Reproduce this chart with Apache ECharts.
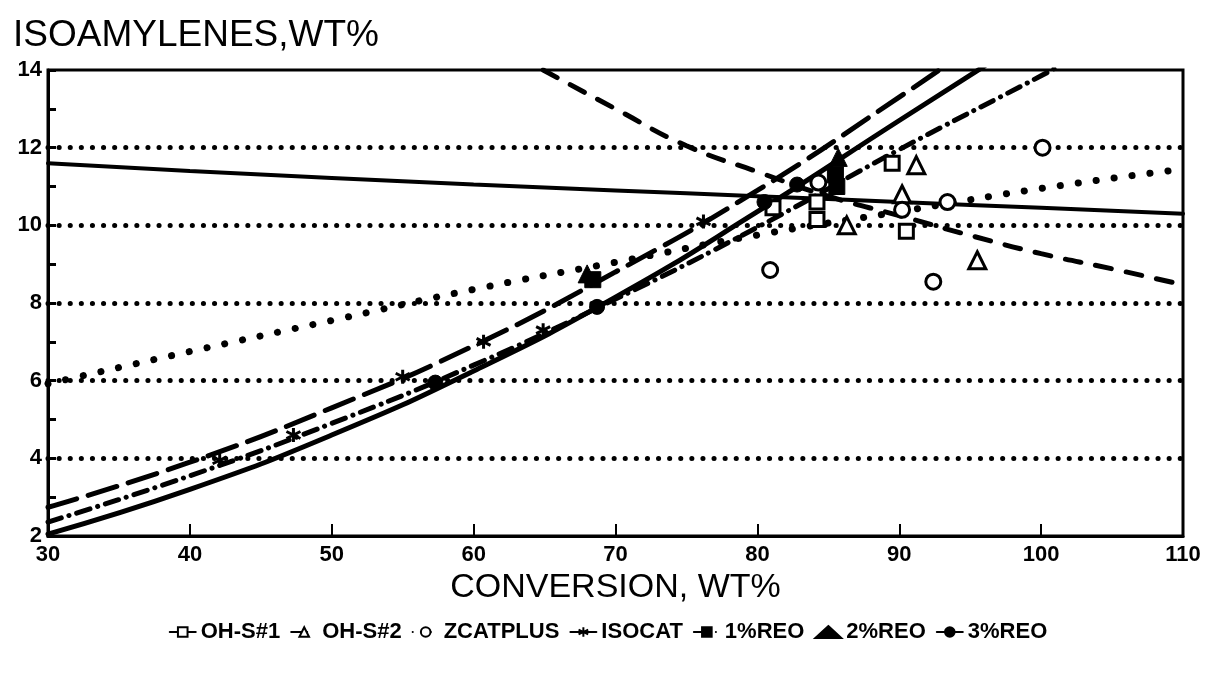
<!DOCTYPE html>
<html><head><meta charset="utf-8">
<script src="https://cdn.jsdelivr.net/npm/echarts@6/dist/echarts.min.js"></script>
<style>html,body{margin:0;padding:0;background:#fff}#c{width:1216px;height:686px}</style>
</head><body><div id="c"></div>
<script>
// ---- data ----
const seriesNames = ['OH-S#1','OH-S#2','ZCATPLUS','ISOCAT','1%REO','2%REO','3%REO'];
const xTicks = [30,40,50,60,70,80,90,100,110];

// fitted curves
const ohs1CurveX = [30,40,50,60,70,80,90,100,110];
const ohs1CurveY = [11.6,11.4,11.22,11.05,10.9,10.75,10.6,10.45,10.3];
const ohs2CurveX = [64.9,70,75,80,85,90,95,100,105,110];
const ohs2CurveY = [14.0,13.0,12.05,11.38,10.75,10.25,9.74,9.27,8.88,8.47];
const zcatCurveX = [30,40,50,60,70,80,90,100,110];
const zcatCurveY = [5.92,6.75,7.55,8.35,9.05,9.75,10.35,10.95,11.45];
const isocatCurveX = [30,40,50,60,70,80,90,94];
const isocatCurveY = [2.74,3.9,5.3,6.9,8.8,10.9,13.3,14.3];
const reo1CurveX = [30,40,50,60,70,80,90,100,101];
const reo1CurveY = [2.36,3.55,4.9,6.4,8.1,9.95,11.95,13.85,14.05];
const reo3CurveX = [30,40,50,60,70,80,90,96];
const reo3CurveY = [2.05,3.2,4.6,6.25,8.15,10.35,12.7,14.1];

// measured points
const ohs1PtsX = [81.1,84.2,84.2,89.5,90.5];
const ohs1PtsY = [10.45,10.6,10.15,11.6,9.85];
const ohs2PtsX = [86.3,90.2,91.2,95.5];
const ohs2PtsY = [10.0,10.8,11.55,9.1];
const zcatPtsX = [80.9,84.3,90.2,92.4,93.4,100.1];
const zcatPtsY = [8.85,11.1,10.4,8.55,10.6,12.0];
const isocatPtsX = [42.1,47.3,55,60.7,64.9,76.2];
const isocatPtsY = [3.95,4.6,6.1,7.0,7.3,10.1];
const reo1PtsX = [68.4,85.5,85.6];
const reo1PtsY = [8.6,11.3,11.0];
const reo2PtsX = [68.0,85.7];
const reo2PtsY = [8.75,11.75];
const reo3PtsX = [57.3,68.7,80.5,82.8];
const reo3PtsY = [5.95,7.9,10.6,11.05];

const zip = (xs, ys) => xs.map((x, i) => [x, ys[i]]);
const FONT = '"Liberation Sans", Arial, sans-serif';
const STAR = 'path://M10,0 L10,20 M1.34,5 L18.66,15 M1.34,15 L18.66,5';
const openStyle = {color:'#fff', borderColor:'#000', borderWidth:3, opacity:1};
const fillStyle = {color:'#000', borderColor:'#000', borderWidth:1, opacity:1};
const starStyle = {color:'transparent', borderColor:'#000', borderWidth:3, opacity:1};

function lineSeries(name, xs, ys, type, width, symbol, itemStyle) {
  return {
    name, type:'line', data: zip(xs, ys), smooth: true, showSymbol: false,
    symbol, symbolSize: 12, itemStyle, z: 2,
    lineStyle: {color:'#000', width, type, cap:'round', opacity:1},
    emphasis: {disabled: true}, silent: true
  };
}
function pointSeries(name, xs, ys, symbol, size, itemStyle) {
  return {
    name, type:'scatter', data: zip(xs, ys), symbol, symbolSize: size,
    itemStyle, z: 5, emphasis: {disabled: true}, silent: true
  };
}

const chart = echarts.init(document.getElementById('c'), null, {renderer:'canvas'});
chart.setOption({
  animation: false,
  backgroundColor: '#fff',
  title: {
    text: 'ISOAMYLENES,WT%', left: 8, top: 12,
    textStyle: {fontFamily: FONT, fontSize: 37, fontWeight: 'normal', color: '#000'}
  },
  legend: {
    data: seriesNames, bottom: 38, left: 'center', itemGap: 10,
    itemWidth: 26, itemHeight: 12,
    textStyle: {fontFamily: FONT, fontSize: 22, fontWeight: 'bold', color: '#000'}
  },
  grid: {left: 48, right: 33, top: 70, bottom: 150, show: true, borderColor: '#000', borderWidth: 3},
  xAxis: {
    type: 'value', min: 30, max: 110, interval: 10,
    name: 'CONVERSION, WT%', nameLocation: 'middle', nameGap: 34,
    nameTextStyle: {fontFamily: FONT, fontSize: 34, color: '#000'},
    axisLine: {show: true, lineStyle: {color:'#000', width: 3}},
    axisTick: {show: true, inside: true, length: 12, lineStyle: {color:'#000', width: 2}},
    axisLabel: {fontFamily: FONT, fontSize: 22, fontWeight: 'bold', color:'#000', margin: 8,
      formatter: v => xTicks.includes(v) ? String(v) : ''},
    splitLine: {show: false}
  },
  yAxis: {
    type: 'value', min: 2, max: 14, interval: 2,
    axisLine: {show: true, lineStyle: {color:'#000', width: 3}},
    axisTick: {show: true, inside: true, length: 8, lineStyle: {color:'#000', width: 3}},
    minorTick: {show: true, splitNumber: 2, length: 8, lineStyle: {color:'#000', width: 3}},
    axisLabel: {fontFamily: FONT, fontSize: 22, fontWeight: 'bold', color:'#000', margin: 6},
    splitLine: {show: true, showMinLine: false, showMaxLine: false,
      lineStyle: {color:'#000', width: 5, type: [0.1, 11], cap: 'round'}}
  },
  series: [
    lineSeries('OH-S#1', ohs1CurveX, ohs1CurveY, 'solid', 4, 'rect', openStyle),
    lineSeries('OH-S#2', ohs2CurveX, ohs2CurveY, [16, 15], 5, 'triangle', openStyle),
    lineSeries('ZCATPLUS', zcatCurveX, zcatCurveY, [0.1, 18], 7, 'circle', openStyle),
    lineSeries('ISOCAT', isocatCurveX, isocatCurveY, [30, 12], 5, STAR, starStyle),
    lineSeries('1%REO', reo1CurveX, reo1CurveY, [14, 8, 0.1, 8], 5, 'rect', fillStyle),
    pointSeries('2%REO', reo2PtsX, reo2PtsY, 'triangle', 18, fillStyle),
    lineSeries('3%REO', reo3CurveX, reo3CurveY, 'solid', 5, 'circle', fillStyle),
    pointSeries('OH-S#1', ohs1PtsX, ohs1PtsY, 'rect', 14, openStyle),
    pointSeries('OH-S#2', ohs2PtsX, ohs2PtsY, 'triangle', 17, openStyle),
    pointSeries('ZCATPLUS', zcatPtsX, zcatPtsY, 'circle', 15, openStyle),
    pointSeries('ISOCAT', isocatPtsX, isocatPtsY, STAR, 14, starStyle),
    pointSeries('1%REO', reo1PtsX, reo1PtsY, 'rect', 16, fillStyle),
    pointSeries('3%REO', reo3PtsX, reo3PtsY, 'circle', 15, fillStyle)
  ]
});
</script></body></html>
